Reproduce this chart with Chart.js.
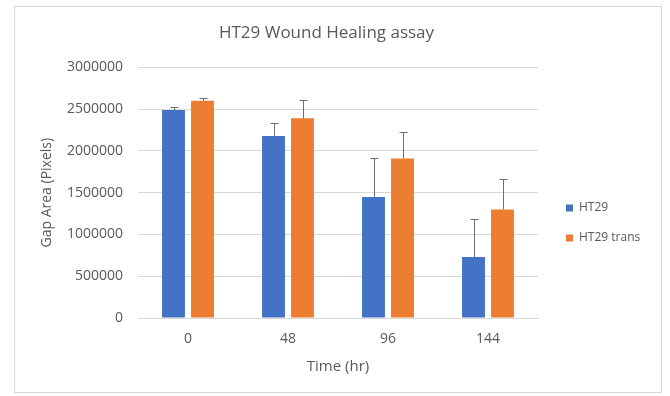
<!DOCTYPE html>
<html>
<head>
<meta charset="utf-8">
<script src="https://cdn.jsdelivr.net/npm/chart.js@4.4.1/dist/chart.umd.min.js"></script>
<style>
    body { margin: 0; background: #fff; }
    .frame {
        position: absolute;
        left: 14px; top: 6px;
        width: 648px; height: 387px;
        box-sizing: border-box;
        border: 1px solid #d9d9d9;
    }
    .frame canvas { display: block; }
</style>
</head>
<body>
<div class="frame">
    <canvas id="woundChart" width="646" height="385"></canvas>
</div>
<script>
    // time points (hours) and mean gap area per line, with upper error
    const timePoints = ['0', '48', '96', '144'];
    const ht29 = [2490000, 2180000, 1450000, 730000];
    const ht29Err = [30000, 160000, 460000, 460000];
    const ht29Trans = [2600000, 2390000, 1910000, 1300000];
    const ht29TransErr = [30000, 220000, 320000, 360000];

    const textColor = '#595959';
    const gridColor = '#d9d9d9';

    // plus-only error bars with a small cap on top of each bar
    const errorBars = {
        id: 'errorBars',
        afterDatasetsDraw(chart) {
            const ctx = chart.ctx;
            const yScale = chart.scales.y;
            ctx.save();
            ctx.strokeStyle = '#6e6e6e';
            ctx.lineWidth = 1;
            chart.data.datasets.forEach((ds, i) => {
                const meta = chart.getDatasetMeta(i);
                meta.data.forEach((bar, j) => {
                    const top = yScale.getPixelForValue(ds.data[j] + ds.errors[j]);
                    const x = Math.round(bar.x) + 0.5;
                    const t = Math.round(top) + 0.5;
                    ctx.beginPath();
                    ctx.moveTo(x, bar.y);
                    ctx.lineTo(x, t);
                    ctx.moveTo(x - 4, t);
                    ctx.lineTo(x + 4, t);
                    ctx.stroke();
                });
            });
            ctx.restore();
        }
    };

    // move the legend block next to the plot
    const legendPlace = {
        id: 'legendPlace',
        afterLayout(chart) {
            const lg = chart.legend;
            const w = lg.right - lg.left;
            lg.left = 533;
            lg.right = lg.left + w;
            lg.top = 47;
            lg.bottom = 385;
        }
    };

    const ctx = document.getElementById('woundChart');

    new Chart(ctx, {
        type: 'bar',
        data: {
            labels: timePoints,
            datasets: [{
                label: 'HT29',
                data: ht29,
                errors: ht29Err,
                backgroundColor: '#4472c4'
            }, {
                label: 'HT29 trans',
                data: ht29Trans,
                errors: ht29TransErr,
                backgroundColor: '#ed7d31'
            }]
        },
        options: {
            responsive: false,
            animation: false,
            devicePixelRatio: 1,
            layout: {
                padding: { left: 0, right: 23, top: 0, bottom: 0 }
            },
            datasets: {
                bar: {
                    categoryPercentage: 0.58,
                    barPercentage: 0.79
                }
            },
            plugins: {
                title: {
                    display: true,
                    text: 'HT29 Wound Healing assay',
                    color: textColor,
                    font: { family: 'Open Sans', size: 17, weight: 'normal' },
                    padding: { top: 16, bottom: 24 }
                },
                legend: {
                    position: 'right',
                    maxWidth: 100,
                    labels: {
                        color: textColor,
                        font: { family: 'Open Sans', size: 12 },
                        boxWidth: 7,
                        boxHeight: 7,
                        padding: 18
                    }
                },
                tooltip: { enabled: false }
            },
            scales: {
                x: {
                    grid: { display: false, drawTicks: false },
                    border: { display: true, color: gridColor },
                    ticks: {
                        color: textColor,
                        font: { family: 'Open Sans', size: 14 },
                        padding: 13
                    },
                    title: {
                        display: true,
                        text: 'Time (hr)',
                        color: textColor,
                        font: { family: 'Open Sans', size: 15 },
                        padding: { top: 0, bottom: 16 }
                    },
                    afterFit(scale) { scale.height = 74; }
                },
                y: {
                    min: 0,
                    max: 3000000,
                    grid: { color: gridColor, drawTicks: false },
                    border: { display: false },
                    ticks: {
                        stepSize: 500000,
                        color: textColor,
                        font: { family: 'Open Sans', size: 14 },
                        padding: 15,
                        callback: (value) => String(value)
                    },
                    title: {
                        display: true,
                        text: 'Gap Area (Pixels)',
                        color: textColor,
                        font: { family: 'Open Sans', size: 14 },
                        padding: { top: 24, bottom: 0 }
                    },
                    afterFit(scale) { scale.width = 123; }
                }
            }
        },
        plugins: [errorBars, legendPlace]
    });
</script>
</body>
</html>
